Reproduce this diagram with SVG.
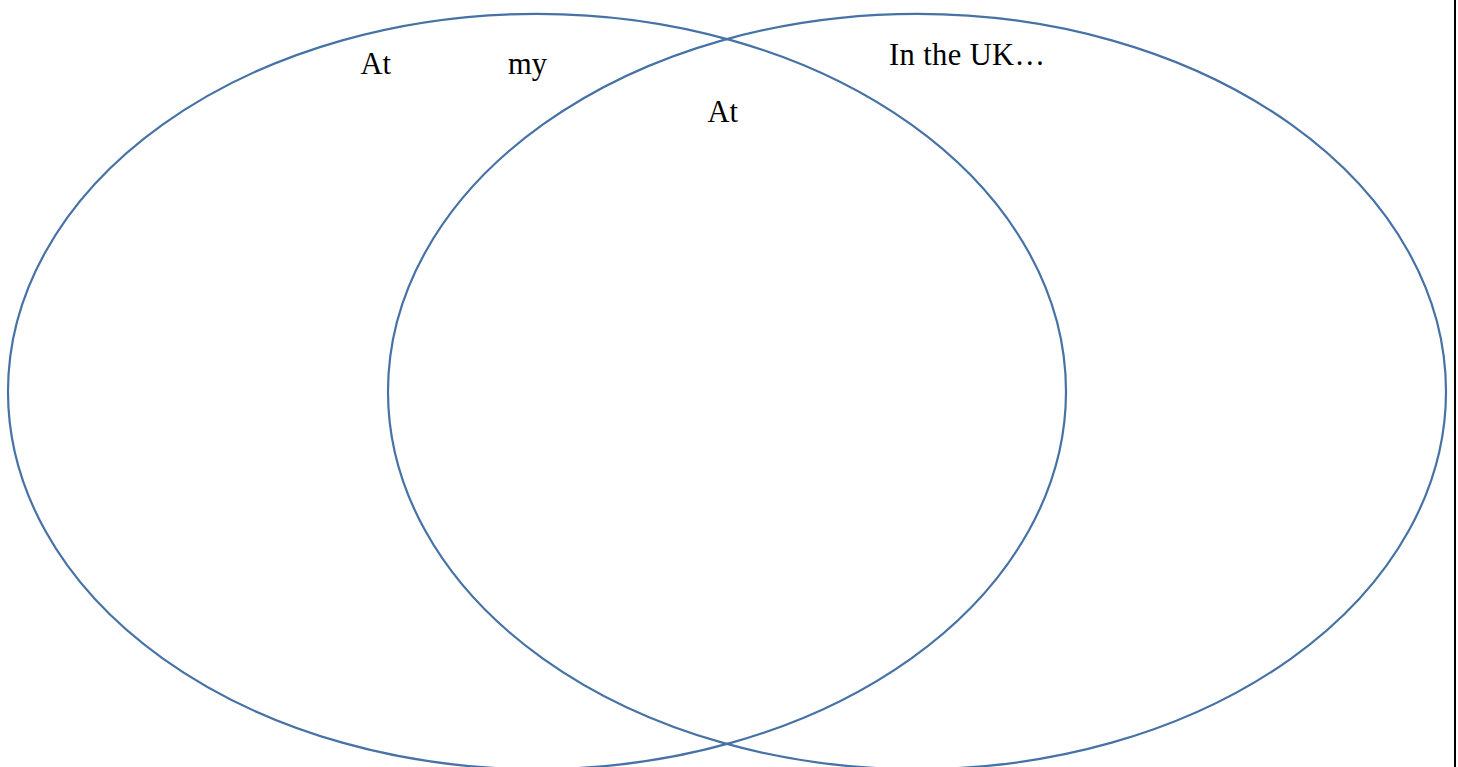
<svg xmlns="http://www.w3.org/2000/svg" width="1458" height="767" viewBox="0 0 1458 767">
<style>
.set{fill:none;stroke:#4672a5;stroke-width:2.2}
.lbl{font-family:"Liberation Serif","Times New Roman",serif;font-size:30.5px;fill:#000}
</style>
<rect x="0" y="0" width="1458" height="767" fill="#fff"/>
<g id="set-left"><ellipse class="set" cx="537" cy="391.5" rx="529" ry="377.7"/>
<text class="lbl" x="360.5" y="74">At</text>
<text class="lbl" x="508" y="74">my</text></g>
<g id="set-right"><ellipse class="set" cx="917" cy="391.5" rx="529" ry="377.7"/>
<text class="lbl" x="889" y="65" textLength="156" lengthAdjust="spacing">In the UK…</text></g>
<g id="overlap"><text class="lbl" x="707.5" y="121.5">At</text></g>
<g id="connectors"></g>
<rect x="1454" y="0" width="2" height="767" fill="#000"/>
</svg>
